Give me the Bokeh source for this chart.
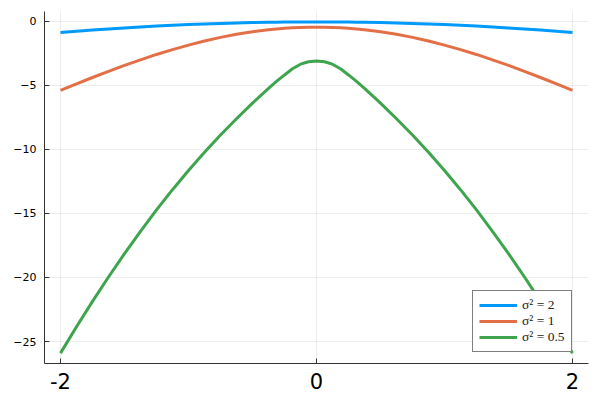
from bokeh.plotting import figure
from bokeh.models import Range1d, FixedTicker, Legend, LegendItem
from bokeh.embed import file_html
from bokeh.resources import INLINE

# data (half curves, symmetric about x = 0)
x_half = [-2.0, -1.875, -1.75, -1.625, -1.5, -1.375, -1.25, -1.125, -1.0, -0.875, -0.75, -0.625,
          -0.5, -0.375, -0.3125, -0.25, -0.1875, -0.125, -0.0625, 0.0]
green_half = [-25.9, -23.84, -21.86, -19.96, -18.14, -16.4, -14.73, -13.15, -11.65, -10.23,
              -8.88, -7.62, -6.4, -5.25, -4.7, -4.2, -3.72, -3.36, -3.17, -3.11]
orange_half = [-5.4, -4.9, -4.4, -3.92, -3.45, -3.02, -2.6, -2.22, -1.87, -1.55, -1.27, -1.03,
               -0.83, -0.68, -0.62, -0.56, -0.52, -0.49, -0.475, -0.47]
blue_half = [-0.88, -0.79, -0.70, -0.61, -0.53, -0.46, -0.39, -0.33, -0.27, -0.22, -0.18, -0.14,
             -0.11, -0.09, -0.08, -0.07, -0.065, -0.06, -0.06, -0.06]
x = x_half + [-v for v in x_half[-2::-1]]
green = green_half + green_half[-2::-1]
orange = orange_half + orange_half[-2::-1]
blue = blue_half + blue_half[-2::-1]

labels = ["σ² = 2", "σ² = 1", "σ² = 0.5"]
colors = ["#009AFA", "#E36F47", "#3EA44E"]
x_ticks = [-2, 0, 2]
y_ticks = [0, -5, -10, -15, -20, -25]

p = figure(width=592, height=392, output_backend="svg", toolbar_location=None,
           x_range=Range1d(-2.125, 2.125), y_range=Range1d(-26.71, 0.75),
           min_border_left=44, min_border_right=4, min_border_top=11, min_border_bottom=29)
p.outline_line_color = None
p.background_fill_color = "white"

renderers = []
for ys, c in zip([blue, orange, green], colors):
    r = p.line(x, ys, line_color=c, line_width=3)
    renderers.append(r)

for ax in (p.xaxis, p.yaxis):
    ax.axis_line_color = "#333333"
    ax.axis_line_width = 1
    ax.major_tick_in = 5
    ax.major_tick_out = 0
    ax.minor_tick_line_color = None
    ax.major_tick_line_color = "#333333"

p.xaxis.ticker = FixedTicker(ticks=x_ticks)
p.xaxis.major_label_overrides = {t: str(t) for t in x_ticks}
p.xaxis.major_label_text_font = "DejaVu Sans"
p.xaxis.major_label_text_font_size = "21px"
p.xaxis.major_label_text_color = "black"
p.xaxis.major_label_standoff = 9

p.yaxis.ticker = FixedTicker(ticks=y_ticks)
p.yaxis.major_label_overrides = {t: (str(t).replace("-", "\u2212")) for t in y_ticks}
p.yaxis.major_label_text_font = "DejaVu Sans"
p.yaxis.major_label_text_font_size = "11px"
p.yaxis.major_label_text_color = "black"
p.yaxis.major_label_standoff = 8

p.xgrid.ticker = FixedTicker(ticks=x_ticks)
p.ygrid.ticker = FixedTicker(ticks=y_ticks)
for g in (p.xgrid, p.ygrid):
    g.grid_line_color = "black"
    g.grid_line_alpha = 0.07
    g.grid_line_width = 1

legend = Legend(items=[LegendItem(label=l, renderers=[r]) for l, r in zip(labels, renderers)],
                location=(428, 11))
legend.label_text_font = "Liberation Serif"
legend.label_text_font_size = "13.5px"
legend.label_text_color = "#222222"
legend.glyph_width = 38
legend.glyph_height = 12
legend.label_height = 12
legend.label_standoff = 5
legend.spacing = 0
legend.padding = 6
legend.margin = 0
legend.border_line_color = "black"
legend.border_line_width = 1
legend.background_fill_color = "white"
legend.background_fill_alpha = 1
p.add_layout(legend, "center")

open("out.html", "w").write(file_html(p, INLINE))
